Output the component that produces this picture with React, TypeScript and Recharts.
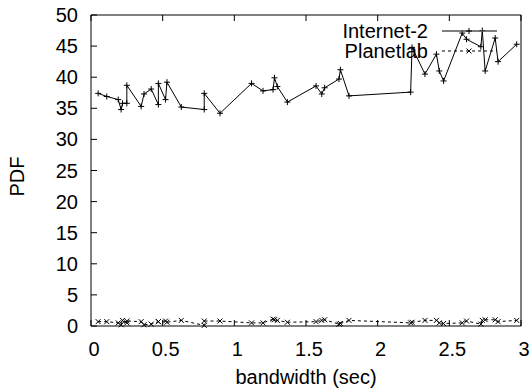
import React from "react";
import { LineChart, Line, XAxis, YAxis, Legend } from "recharts";

const bandwidth = [
  0.05, 0.11, 0.19, 0.21, 0.22, 0.25, 0.25, 0.35, 0.37, 0.42,
  0.47, 0.47, 0.52, 0.53, 0.63, 0.79, 0.79, 0.9, 1.12, 1.2,
  1.27, 1.28, 1.3, 1.37, 1.57, 1.61, 1.63, 1.73, 1.74, 1.8,
  2.23, 2.24, 2.33, 2.41, 2.43, 2.46, 2.59, 2.62, 2.72, 2.73,
  2.75, 2.82, 2.84, 2.97,
];

const internet2 = [
  37.4, 36.9, 36.4, 34.8, 35.8, 35.8, 38.7, 35.3, 37.3, 38.1,
  35.6, 39.0, 36.4, 39.2, 35.2, 34.8, 37.4, 34.2, 39.0, 37.8,
  38.0, 39.9, 38.5, 36.0, 38.6, 37.3, 38.3, 39.7, 41.2, 37.0,
  37.6, 44.8, 40.5, 43.7, 41.0, 39.4, 47.1, 46.1, 44.9, 47.5,
  41.0, 46.3, 42.5, 45.3,
];

const planetlab = [
  0.7, 0.7, 0.5, 0.2, 0.9, 0.5, 0.8, 0.7, 0.2, 0.3,
  0.7, 0.7, 0.8, 0.6, 0.9, 0.1, 0.8, 0.8, 0.5, 0.5,
  1.1, 1.0, 0.9, 0.6, 0.7, 0.9, 1.0, 0.3, 0.4, 0.9,
  0.5, 0.6, 0.9, 0.9, 0.5, 0.4, 0.5, 0.8, 0.3, 0.9,
  1.0, 1.0, 0.7, 0.9,
];

const xTicks = [0, 0.5, 1, 1.5, 2, 2.5, 3];
const yTicks = [0, 5, 10, 15, 20, 25, 30, 35, 40, 45, 50];

const data = bandwidth.map((b, i) => ({
  bw: b,
  inet: internet2[i],
  planet: planetlab[i],
}));

const FONT = "'Liberation Sans', Arial, Helvetica, sans-serif";
const FS = 20;
const TL = 6; // inward tick length

const Plus = (cx: number, cy: number, key?: any) => (
  <path key={key} d={`M${cx - 3},${cy}H${cx + 3}M${cx},${cy - 3}V${cy + 3}`} stroke="#000" strokeWidth={1} fill="none" />
);

const Cross = (cx: number, cy: number, key?: any) => (
  <path
    key={key}
    d={`M${cx - 2.5},${cy - 2.5}L${cx + 2.5},${cy + 2.5}M${cx - 2.5},${cy + 2.5}L${cx + 2.5},${cy - 2.5}`}
    stroke="#000"
    strokeWidth={1}
    fill="none"
  />
);

// bottom axis: label plus inward tick mark
const BottomTick = (p: any) => {
  const top = p.y - 23; // axis line y (tickMargin 23, tickSize 0)
  return (
    <g>
      <line x1={p.x} x2={p.x} y1={top} y2={top - TL} stroke="#000" />
      <text x={p.x + 3} y={top + 23} textAnchor="middle" dominantBaseline="central" fontSize={FS} fontFamily={FONT} fill="#000">
        {p.payload.value}
      </text>
    </g>
  );
};

const LeftTick = (p: any) => {
  const edge = p.x + 13;
  return (
    <g>
      <line x1={edge} x2={edge + TL} y1={p.y} y2={p.y} stroke="#000" />
      <text x={p.x} y={p.y} textAnchor="end" dominantBaseline="central" fontSize={FS} fontFamily={FONT} fill="#000">
        {p.payload.value}
      </text>
    </g>
  );
};

const TopTick = (p: any) => (
  <line x1={p.x} x2={p.x} y1={p.y} y2={p.y + TL} stroke="#000" />
);

const RightTick = (p: any) => (
  <line x1={p.x} x2={p.x - TL} y1={p.y} y2={p.y} stroke="#000" />
);

const LegendBox = () => (
  <svg width={531} height={62} style={{ display: "block" }}>
    <g fontFamily={FONT} fontSize={FS} fill="#000">
      <text x={428} y={31} textAnchor="end" dominantBaseline="central">Internet-2</text>
      <text x={428} y={51} textAnchor="end" dominantBaseline="central">Planetlab</text>
    </g>
    <line x1={442} x2={497} y1={31} y2={31} stroke="#555" strokeWidth={1.5} />
    {Plus(469, 31)}
    <line x1={442} x2={497} y1={51} y2={51} stroke="#000" strokeDasharray="3 3" />
    {Cross(469, 51)}
  </svg>
);

export default function App() {
  return (
    <div style={{ position: "absolute", left: 0, top: 0, width: 531, height: 389, background: "#fff" }}>
      <LineChart
        width={531}
        height={389}
        data={data}
        margin={{ top: 0, right: 0, bottom: 0, left: 0 }}
      >
        <XAxis
          xAxisId="b"
          dataKey="bw"
          type="number"
          domain={[0, 3]}
          ticks={xTicks}
          height={63}
          tickSize={0}
          tickMargin={23}
          axisLine={{ stroke: "#000" }}
          tickLine={false}
          tick={BottomTick}
          label={{
            content: (p: any) => {
              const vb = p.viewBox;
              return (
                <text x={vb.x + vb.width / 2} y={377} textAnchor="middle" dominantBaseline="central" fontSize={FS} fontFamily={FONT} fill="#000">
                  bandwidth (sec)
                </text>
              );
            },
          }}
        />
        <XAxis
          xAxisId="t"
          orientation="top"
          dataKey="bw"
          type="number"
          domain={[0, 3]}
          ticks={xTicks}
          height={15}
          tickSize={0}
          tickMargin={0}
          axisLine={{ stroke: "#000" }}
          tickLine={false}
          tick={TopTick}
        />
        <YAxis
          yAxisId="l"
          type="number"
          domain={[0, 50]}
          ticks={yTicks}
          width={91}
          tickSize={0}
          tickMargin={13}
          axisLine={{ stroke: "#000" }}
          tickLine={false}
          tick={LeftTick}
          label={{
            content: (p: any) => {
              const vb = p.viewBox;
              const cy = vb.y + vb.height / 2 + 6;
              return (
                <text x={17} y={cy} transform={`rotate(-90 17 ${cy})`} textAnchor="middle" dominantBaseline="central" fontSize={FS} fontFamily={FONT} fill="#000">
                  PDF
                </text>
              );
            },
          }}
        />
        <YAxis
          yAxisId="r"
          orientation="right"
          type="number"
          domain={[0, 50]}
          ticks={yTicks}
          width={10}
          tickSize={0}
          tickMargin={0}
          axisLine={{ stroke: "#000" }}
          tickLine={false}
          tick={RightTick}
        />
        <Legend
          layout="horizontal"
          verticalAlign="middle"
          align="center"
          wrapperStyle={{ position: "absolute", left: 0, top: 0, width: 531, height: 62 }}
          content={() => <LegendBox />}
        />
        <Line
          xAxisId="b"
          yAxisId="l"
          dataKey="inet"
          name="Internet-2"
          stroke="#000"
          strokeWidth={1}
          isAnimationActive={false}
          dot={(p: any) => Plus(p.cx, p.cy, `i${p.index}`)}
          activeDot={false}
        />
        <Line
          xAxisId="b"
          yAxisId="l"
          dataKey="planet"
          name="Planetlab"
          stroke="#000"
          strokeWidth={1}
          strokeDasharray="3 3"
          isAnimationActive={false}
          dot={(p: any) => Cross(p.cx, p.cy, `p${p.index}`)}
          activeDot={false}
        />
      </LineChart>
    </div>
  );
}
